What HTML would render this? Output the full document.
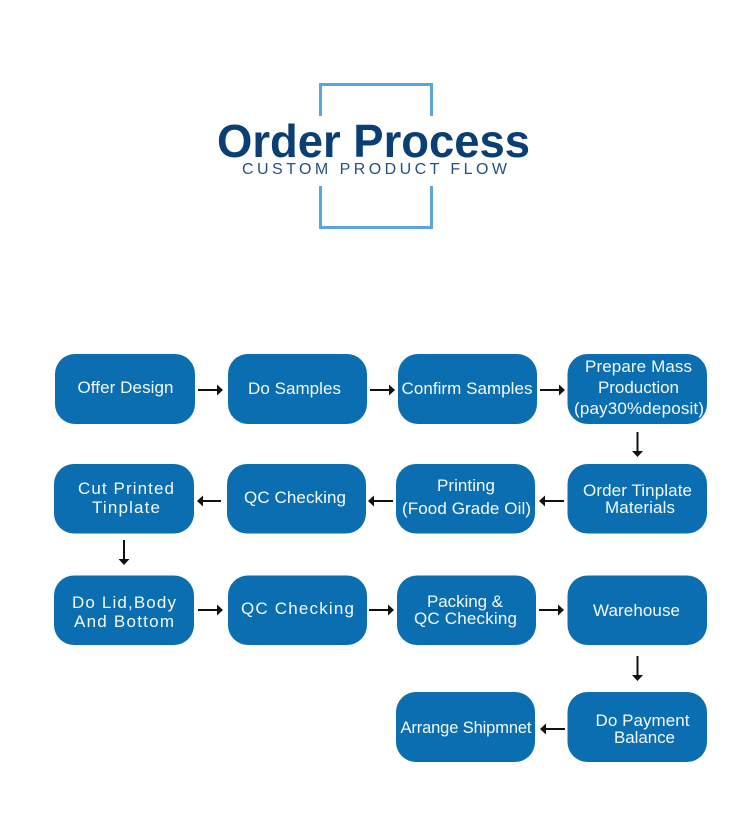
<!DOCTYPE html>
<html lang="en">
<head>
<meta charset="utf-8">
<title>Order Process</title>
<style>
html,body{margin:0;padding:0;background:#fff}
svg{display:block}
text{font-family:"Liberation Sans",Arial,sans-serif}
.b{fill:#0a6eb0}
.t text{fill:#f4fafd;font-size:17px}
.a{stroke:#111;stroke-width:2;fill:none}
.h{fill:#111}
</style>
</head>
<body>
<svg width="750" height="828" viewBox="0 0 750 828" xmlns="http://www.w3.org/2000/svg">
<rect width="750" height="828" fill="#fff"/>
<path d="M320.500 116V84.500H431.500V116M320.500 186V227.500H431.500V186" fill="none" stroke="#5ba5d8" stroke-width="3"/>
<text x="217" y="157" font-size="46" font-weight="700" fill="#0b3f74" textLength="313" lengthAdjust="spacingAndGlyphs">Order Process</text>
<text x="242" y="174" font-size="16" fill="#24527f" textLength="265">CUSTOM PRODUCT FLOW</text>

<g class="b">
<rect x="55" y="354" width="140" height="70" rx="20"/>
<rect x="228" y="354" width="139" height="70" rx="20"/>
<rect x="398" y="354" width="139" height="70" rx="20"/>
<rect x="567.500" y="354" width="139.500" height="70" rx="20"/>
<rect x="54" y="464" width="140" height="69.500" rx="20"/>
<rect x="227" y="464" width="139" height="69.500" rx="20"/>
<rect x="396" y="464" width="139" height="69.500" rx="20"/>
<rect x="567.500" y="464" width="139.500" height="69.500" rx="20"/>
<rect x="54" y="575.500" width="140" height="69.500" rx="20"/>
<rect x="228" y="575.500" width="139" height="69.500" rx="20"/>
<rect x="397" y="575.500" width="139" height="69.500" rx="20"/>
<rect x="567.500" y="575.500" width="139.500" height="69.500" rx="20"/>
<rect x="396" y="692" width="139" height="70" rx="20"/>
<rect x="567.500" y="692" width="139.500" height="70" rx="20"/>
</g>

<g class="t">
<text x="77.500" y="393" textLength="96">Offer Design</text>
<text x="248" y="394" textLength="93">Do Samples</text>
<text x="401.500" y="394" textLength="131">Confirm Samples</text>
<text x="585" y="372" textLength="107">Prepare Mass</text>
<text x="598" y="393" textLength="81">Production</text>
<text x="574" y="414" textLength="130">(pay30%deposit)</text>
<text x="78" y="494" textLength="96">Cut Printed</text>
<text x="92" y="513" textLength="68">Tinplate</text>
<text x="244" y="503" textLength="102">QC Checking</text>
<text x="437" y="491" textLength="58">Printing</text>
<text x="402" y="514" textLength="129">(Food Grade Oil)</text>
<text x="583" y="496" textLength="109">Order Tinplate</text>
<text x="605" y="513" textLength="70">Materials</text>
<text x="72" y="608" textLength="104">Do Lid,Body</text>
<text x="74" y="627" textLength="100">And Bottom</text>
<text x="241" y="614" textLength="113">QC Checking</text>
<text x="427" y="607" textLength="76">Packing &amp;</text>
<text x="414" y="624" textLength="103">QC Checking</text>
<text x="593" y="616" textLength="87">Warehouse</text>
<text x="400.500" y="733" textLength="131" style="font-size:16.500px">Arrange Shipmnet</text>
<text x="595.500" y="726" textLength="94">Do Payment</text>
<text x="614" y="743" textLength="61">Balance</text>
</g>

<g class="a">
<path d="M198 390H219M370 390H391M540 390H561"/>
<path d="M201 501H221M372 501H393M543 501H564"/>
<path d="M198 610H219M369 610H390M539 610H560"/>
<path d="M544 729H565"/>
<path d="M637.500 432V453M637.500 656V677M124 540V561"/>
</g>
<g class="h">
<path d="M223 390l-6-5.500v11zM395 390l-6-5.500v11zM565 390l-6-5.500v11z"/>
<path d="M197 501l6-5.500v11zM368 501l6-5.500v11zM539 501l6-5.500v11z"/>
<path d="M223 610l-6-5.500v11zM394 610l-6-5.500v11zM564 610l-6-5.500v11z"/>
<path d="M540 729l6-5.500v11z"/>
<path d="M637.500 457l-5.500-6h11zM637.500 681l-5.500-6h11zM124 565l-5.500-6h11z"/>
</g>
</svg>
</body>
</html>
